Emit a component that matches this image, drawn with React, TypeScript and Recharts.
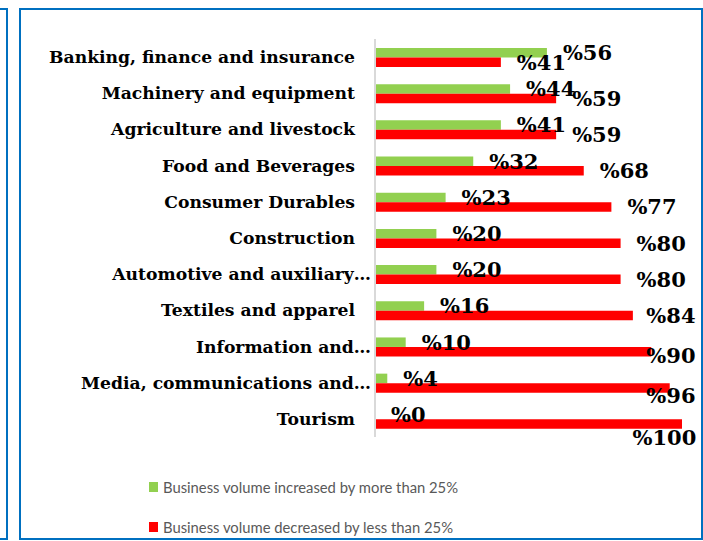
import React from 'react';
import { BarChart, Bar, XAxis, YAxis, Legend, LabelList } from 'recharts';

const CATEGORIES = [
  'Banking, finance and insurance',
  'Machinery and equipment',
  'Agriculture and livestock',
  'Food and Beverages',
  'Consumer Durables',
  'Construction',
  'Automotive and auxiliary…',
  'Textiles and apparel',
  'Information and…',
  'Media, communications and…',
  'Tourism',
];
const INCREASED = [56, 44, 41, 32, 23, 20, 20, 16, 10, 4, 0];
const DECREASED = [41, 59, 59, 68, 77, 80, 80, 84, 90, 96, 100];
const SERIES = ['Business volume increased by more than 25%', 'Business volume decreased by less than 25%'];

const data = CATEGORIES.map((name, i) => ({ name, up: INCREASED[i], down: DECREASED[i] }));

const GREEN = '#92D050';
const RED = '#FF0000';
const FRAME = '#0070C0';
const SERIF = '"DejaVu Serif", serif';
const LABEL_SIZE = 21;
const RIGHT_LIMIT = 694;

const CategoryTick = (props: any) => {
  const { x, y, payload } = props;
  const cut = String(payload.value).endsWith('…');
  return (
    <text x={x + (cut ? 0 : -16)} y={y} dy="0.35em" textAnchor="end" fill="#000"
      style={{ fontFamily: SERIF, fontWeight: 'bold', fontSize: 17.2 }}>
      {payload.value}
    </text>
  );
};

// excel-ish outside-end label, pushed back in and down when it runs off the frame
const ValueLabel = (props: any) => {
  const { x, y, width, height, value } = props;
  const txt = '%' + value;
  const w = LABEL_SIZE * (0.95 + 0.66 * String(value).length);
  let tx = x + width + 16;
  let dy = 0;
  if (tx + w > RIGHT_LIMIT) {
    const over = tx + w - RIGHT_LIMIT;
    tx = RIGHT_LIMIT - w;
    dy = over * 0.2;
  }
  return (
    <text x={tx} y={y + height / 2 + dy} dy="0.35em" fill="#000"
      style={{ fontFamily: SERIF, fontWeight: 'bold', fontSize: LABEL_SIZE }}>
      {txt}
    </text>
  );
};

const LegendBox = (props: any) => {
  const items = [...(props.payload || [])].sort((a: any, b: any) => SERIES.indexOf(a.value) - SERIES.indexOf(b.value));
  return (
    <div style={{ fontFamily: 'Lato, "Liberation Sans", sans-serif', fontSize: 14.8, color: '#595959' }}>
      {items.map((p: any) => (
        <div key={p.value} style={{ display: 'flex', alignItems: 'center', height: 40 }}>
          <span style={{ display: 'inline-block', width: 9, height: 10, background: p.color, marginRight: 5 }} />
          <span>{p.value}</span>
        </div>
      ))}
    </div>
  );
};

export default function App() {
  return (
    <div style={{ position: 'absolute', left: 0, top: 0, width: 703, height: 541, background: '#fff', overflow: 'hidden' }}>
      <div style={{ position: 'absolute', left: -10, top: 8, width: 18, height: 532, border: `2px solid ${FRAME}`, boxSizing: 'border-box' }} />
      <div style={{ position: 'absolute', left: 19, top: 8, width: 684, height: 532, border: `2px solid ${FRAME}`, boxSizing: 'border-box' }} />
      <div style={{ position: 'absolute', left: 0, top: 0 }}>
        <BarChart width={703} height={541} data={data} layout="vertical" barGap={0} barSize={9.5}
          margin={{ top: 39, right: 21, bottom: 104, left: 0 }}>
          <XAxis type="number" domain={[0, 100]} hide />
          <YAxis type="category" dataKey="name" width={375} tickSize={0} tickMargin={4}
            axisLine={{ stroke: '#D9D9D9', strokeWidth: 2 }} tickLine={false} tick={<CategoryTick />} interval={0} />
          <Legend layout="horizontal" verticalAlign="middle" align="center" content={<LegendBox />}
            wrapperStyle={{ top: 467, left: 149, width: 400 }} />
          <Bar dataKey="up" name={SERIES[0]} fill={GREEN} minPointSize={0.01} isAnimationActive={false}>
            <LabelList dataKey="up" content={<ValueLabel />} />
          </Bar>
          <Bar dataKey="down" name={SERIES[1]} fill={RED} isAnimationActive={false}>
            <LabelList dataKey="down" content={<ValueLabel />} />
          </Bar>
        </BarChart>
      </div>
    </div>
  );
}
